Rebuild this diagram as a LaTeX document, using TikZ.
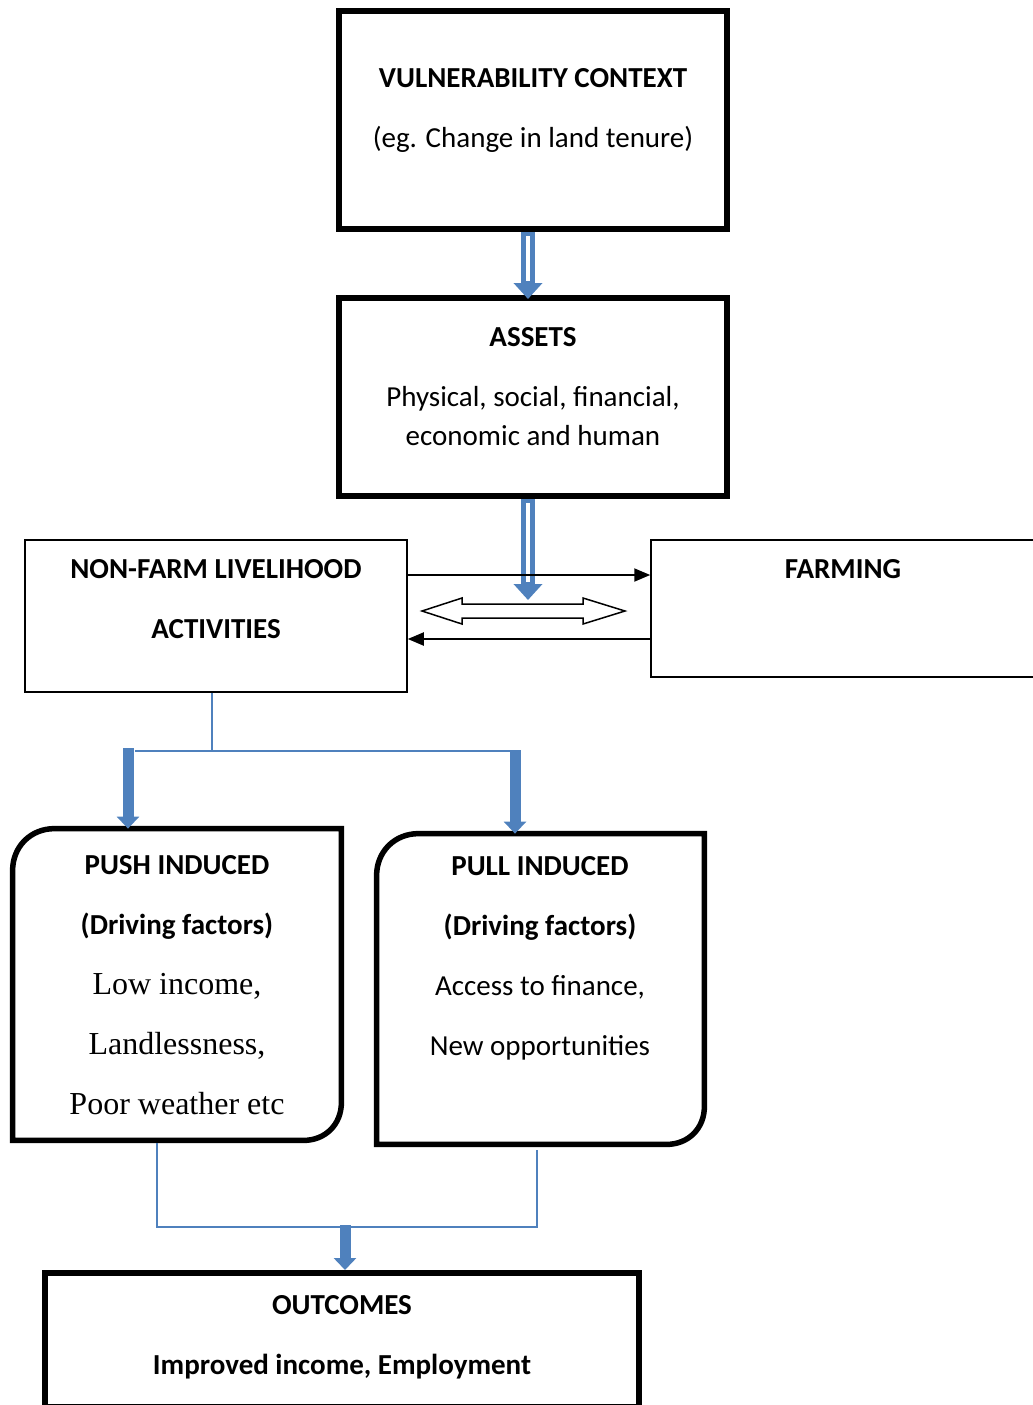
\documentclass[tikz,border=0pt]{standalone}
\usepackage{fontspec}
\setmainfont{Carlito}
\newfontfamily\timesfont{Liberation Serif}
\usetikzlibrary{positioning, arrows.meta, calc}
\definecolor{wordblue}{RGB}{79,129,189}

\begin{document}
\begin{tikzpicture}[x=0.5pt, y=-0.5pt,
    heavybox/.style={draw, line width=3pt, inner sep=0pt},
    lightbox/.style={draw, line width=0.75pt, inner sep=0pt},
    boxtext/.style={align=center, anchor=base, font=\fontsize{14.5}{30}\selectfont},
    blueline/.style={wordblue, line width=1pt},
    bluearrow/.style={wordblue, line width=5.5pt, -{Triangle[length=6pt, width=11pt]}},
    hollowblue/.style={wordblue, line width=7pt, -{Triangle[length=8pt, width=14pt]}},
    flowarrow/.style={line width=1pt, -{Triangle[length=8pt, width=6.5pt]}}]
  \useasboundingbox (0,0) rectangle (1033,1405);
  \clip (0,0) rectangle (1033,1405);

  % boxes
  \node[heavybox, minimum width=194pt, minimum height=109pt] (vuln) at (533,120) {};
  \node[heavybox, minimum width=194pt, minimum height=99pt] (assets) at (533,397) {};
  \node[lightbox, minimum width=191pt, minimum height=76pt] (nonfarm) at (216,616) {};
  \node[lightbox, minimum width=197pt, minimum height=68.5pt] (farming) at (848,608.5) {};
  \node[minimum width=164pt, minimum height=155.5pt, inner sep=0pt] (push) at (177,984.5) {};
  \node[minimum width=163.5pt, minimum height=155pt, inner sep=0pt] (pull) at (540.5,989) {};
  \node[heavybox, minimum width=297pt, minimum height=67pt] (outcomes) at (342,1340) {};

  % push / pull outlines
  \draw[line width=2.75pt] (push.south west) -- ($(push.north west)+(0,42)$) .. controls ($(push.north west)+(0,18)$) and ($(push.north west)+(18,0)$) .. ($(push.north west)+(42,0)$)
    -- (push.north east) -- ($(push.south east)+(0,-38)$) .. controls ($(push.south east)+(0,-16)$) and ($(push.south east)+(-16,0)$) .. ($(push.south east)+(-38,0)$) -- cycle;
  \draw[line width=2.75pt] (pull.south west) -- ($(pull.north west)+(0,42)$) .. controls ($(pull.north west)+(0,18)$) and ($(pull.north west)+(18,0)$) .. ($(pull.north west)+(42,0)$)
    -- (pull.north east) -- ($(pull.south east)+(0,-38)$) .. controls ($(pull.south east)+(0,-16)$) and ($(pull.south east)+(-16,0)$) .. ($(pull.south east)+(-38,0)$) -- cycle;

  % texts
  \node[boxtext] (vulnT) at (533,147) {\textbf{VULNERABILITY CONTEXT}\\(eg. Change in land tenure)};
  \node[boxtext, font=\fontsize{14.5}{19.5}\selectfont] (assetsT) at (533,445) {\textbf{ASSETS}\\[10.5pt]Physical, social, financial,\\economic and human};
  \node[boxtext, font=\bfseries\fontsize{14.5}{30}\selectfont] (nonfarmT) at (216,638) {NON-FARM LIVELIHOOD\\ACTIVITIES};
  \node[boxtext, font=\bfseries\fontsize{14.5}{30}\selectfont] (farmingT) at (843,578) {FARMING};
  \node[boxtext] (pushT) at (177,1114) {\textbf{PUSH INDUCED}\\\textbf{(Driving factors)}\\
    {\timesfont\fontsize{16}{30}\selectfont Low income,}\\{\timesfont\fontsize{16}{30}\selectfont Landlessness,}\\
    {\timesfont\fontsize{16}{30}\selectfont Poor weather etc}};
  \node[boxtext] (pullT) at (540,1055) {\textbf{PULL INDUCED}\\\textbf{(Driving factors)}\\Access to finance,\\New opportunities};
  \node[boxtext, font=\bfseries\fontsize{14.5}{30}\selectfont] (outcomesT) at (342,1374) {OUTCOMES\\Improved income, Employment};

  % links
  \draw[line width=0.75pt, fill=white] (422,611) -- (462,598) -- (462,604) -- (583,604) -- (583,598) -- (625,611)
    -- (583,624) -- (583,618) -- (462,618) -- (462,624) -- cycle;
  \draw[hollowblue] ($(vuln.south)+(-5,0)$) -- ($(assets.north)+(-5,4)$);
  \draw[white, line width=2pt] ($(vuln.south)+(-5,4)$) -- ($(assets.north)+(-5,-14)$);
  \coordinate (linkin) at (528,600);
  \draw[hollowblue] ($(assets.south)+(-5,0)$) -- (linkin);
  \draw[white, line width=2pt] ($(assets.south)+(-5,4)$) -- ($(linkin)+(0,-18)$);

  \path ([yshift=20.5pt]nonfarm.east) coordinate (toFarm);
  \path ([yshift=-11.5pt]nonfarm.east) coordinate (fromFarm);
  \draw[flowarrow] (toFarm) -- (toFarm -| farming.west);
  \draw[flowarrow] (fromFarm -| farming.west) -- (fromFarm);

  % split to push / pull
  \coordinate (split) at (212,751);
  \coordinate (splitL) at (135,751);
  \coordinate (splitR) at (520,751);
  \coordinate (pushin) at (128,748);
  \coordinate (pullin) at (515,750);
  \draw[blueline] (nonfarm.south -| split) -- (split);
  \draw[blueline] (splitL) -- (splitR);
  \draw[bluearrow] (pushin) -- (pushin |- push.north);
  \draw[bluearrow] (pullin) -- (pullin |- pull.north);

  % merge to outcomes
  \coordinate (pushout) at (157,1143);
  \coordinate (pullout) at (537,1150);
  \coordinate (merge) at (345,1227);
  \draw[blueline] (pushout) |- (merge) -| (pullout);
  \draw[bluearrow] ([yshift=1pt]merge) -- (merge |- outcomes.north);
\end{tikzpicture}
\end{document}
